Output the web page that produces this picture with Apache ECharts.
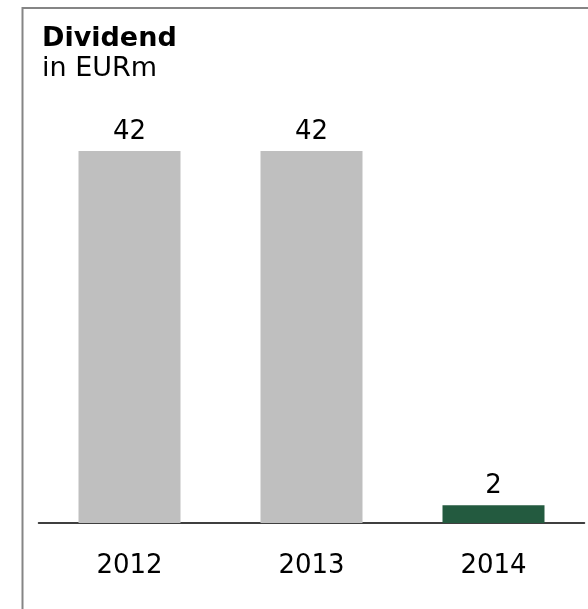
<!DOCTYPE html>
<html>
<head>
<meta charset="utf-8">
<script src="https://cdn.jsdelivr.net/npm/echarts@6/dist/echarts.min.js"></script>
<style>
  html, body { margin: 0; padding: 0; background: #fff; }
  #chart { width: 588px; height: 609px; }
</style>
</head>
<body>
<div id="chart"></div>
<script>
// Dividend per year, in EUR millions
const years = ['2012', '2013', '2014'];
const dividend = [42, 42, 2];
const barColors = ['#bfbfbf', '#bfbfbf', '#235a3f'];

const FONT = '"DejaVu Sans", Verdana, sans-serif';

const chart = echarts.init(document.getElementById('chart'), null, { renderer: 'canvas' });

chart.setOption({
  animation: false,
  backgroundColor: '#ffffff',
  graphic: [{
    type: 'rect',
    shape: { x: 22.5, y: 8, width: 700, height: 700 },
    style: { fill: 'none', stroke: '#858585', lineWidth: 2 },
    silent: true
  }],
  title: {
    text: 'Dividend',
    subtext: 'in EURm',
    left: 37,
    top: 20,
    itemGap: 3,
    textStyle: { fontFamily: FONT, fontSize: 27, fontWeight: 'bold', color: '#000' },
    subtextStyle: { fontFamily: FONT, fontSize: 27, color: '#000' }
  },
  grid: { left: 38.5, right: 3.5, top: 151, bottom: 86, containLabel: false },
  xAxis: {
    type: 'category',
    data: years,
    axisLine: { lineStyle: { color: '#000', width: 1.5 } },
    axisTick: { show: false },
    axisLabel: { fontFamily: FONT, fontSize: 26, color: '#000', margin: 30 }
  },
  yAxis: {
    type: 'value',
    min: 0,
    max: 42,
    show: false,
    splitLine: { show: false }
  },
  series: [{
    type: 'bar',
    barWidth: 102,
    data: dividend.map((v, i) => ({ value: v, itemStyle: { color: barColors[i] } })),
    label: {
      show: true,
      position: 'top',
      distance: 6,
      fontFamily: FONT,
      fontSize: 26,
      color: '#000'
    }
  }]
});
</script>
</body>
</html>
